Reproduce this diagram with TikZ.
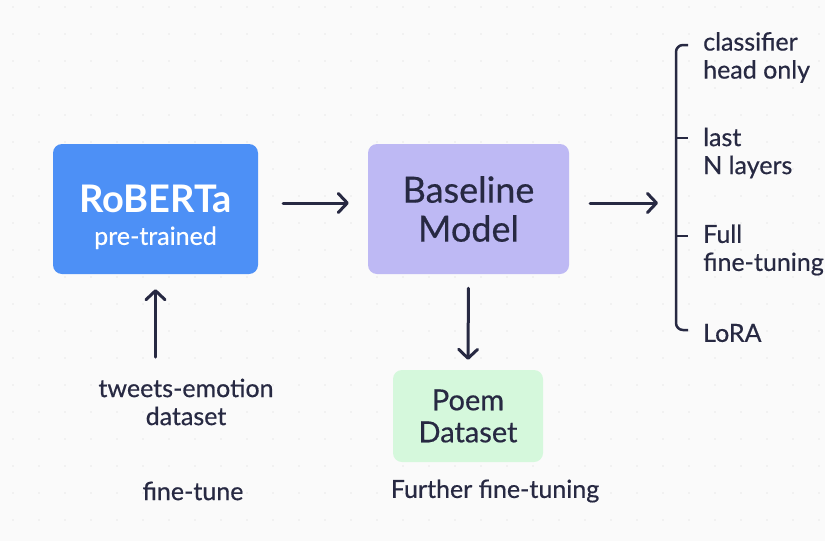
\documentclass[tikz,border=0pt]{standalone}
\usepackage{fontspec}
\setmainfont{Lato}[FakeBold=0.5,BoldFeatures={FakeBold=0}]
\usetikzlibrary{arrows.meta,calc}

\definecolor{robblue}{HTML}{4D90F6}
\definecolor{baselav}{HTML}{BEB9F4}
\definecolor{poemgreen}{HTML}{D5F8DC}
\definecolor{inkdark}{HTML}{272942}
\definecolor{paper}{HTML}{FAFAFA}

\tikzset{
  box/.style={rounded corners=9pt,inner sep=0pt,align=center},
  lbl/.style={text=inkdark,align=center,font=\fontsize{25}{28}\selectfont},
  opt/.style={text=inkdark,align=left,anchor=west,inner sep=0pt,font=\fontsize{25}{28}\selectfont},
  flow/.style={draw=inkdark,line width=3pt,line cap=round,
    -{Straight Barb[length=9pt,width=19pt,line width=3pt,round]}}
}

\begin{document}
\begin{tikzpicture}[x=1pt,y=-1pt]

  % Background
  \fill[paper] (0,0) rectangle (825,541);
  \useasboundingbox (0,0) rectangle (825,541);
  \foreach \i in {0,...,31}
    \foreach \j in {0,...,19}
      \fill[gray!18] (13+26*\i,7+27*\j) circle (0.9pt);

  % Boxes
  \node[box,fill=robblue,text=white,minimum width=205pt,minimum height=130pt,
    font=\fontsize{25}{30}\selectfont] (RB) at (155.5,209)
    {\rule{0pt}{44pt}{\fontsize{38}{40}\selectfont\bfseries RoBERTa}\\[2pt]pre-trained};
  \node[box,fill=baselav,text=inkdark,minimum width=201pt,minimum height=130pt,
    font=\fontsize{36}{39}\selectfont] (BM) at (468.5,209) {Baseline\\Model};
  \node[box,fill=poemgreen,text=inkdark,minimum width=150pt,minimum height=92pt,
    font=\fontsize{29}{32}\selectfont] (PD) at (468,416) {Poem\\Dataset};

  % Labels
  \node[lbl] (TE) at (186,402) {tweets-emotion\\dataset};
  \node[lbl] (FT) at (193,491) {fine-tune};
  \node[lbl] (FF) at (495,491) {Further fine-tuning};

  % Options
  \node[opt] (O1) at (703,57.5) {classifier\\head only};
  \node[opt] (O2) at (703,153) {last\\N layers};
  \node[opt] (O3) at (703,250) {Full\\fine-tuning};
  \node[opt] (O4) at (703,333) {LoRA};

  % Bracket
  \coordinate (BR) at (658,203);
  \draw[inkdark,line width=2.5pt,rounded corners=7pt]
    (688,45) -- (676,45) -- (676,330) -- (688,330);
  \draw[inkdark,line width=2.5pt] (676,138) -- (688,138);
  \draw[inkdark,line width=2.5pt] (676,236) -- (688,236);

  % Arrows
  \draw[flow,shorten <=25pt,shorten >=19pt] ([yshift=6pt]RB.east) -- ([yshift=6pt]BM.west);
  \draw[flow,shorten <=21pt] ([yshift=6pt]BM.east) -- (BR);
  \draw[flow,shorten <=14pt,shorten >=10pt] (BM.south) -- (PD.north);
  \draw[flow,shorten <=18pt,shorten >=15pt] (TE.north -| RB.south) -- (RB.south);

\end{tikzpicture}
\end{document}
